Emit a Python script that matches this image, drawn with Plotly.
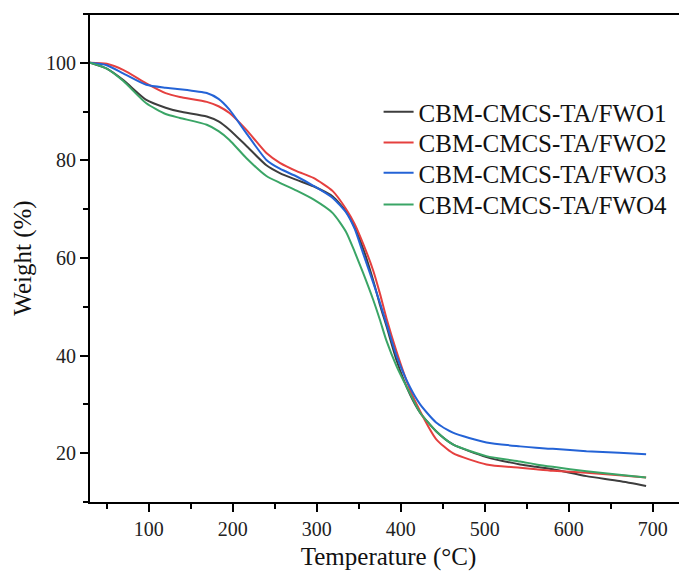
import plotly.graph_objects as go

# TGA curves
temp = [30, 50, 70, 97, 120, 137, 169, 183, 196, 216, 240, 256, 276, 296, 319, 335, 345,
        355, 367, 375, 383, 395, 411, 423, 442, 462, 502, 542, 561, 581, 621, 660, 692]

fwo1 = [100, 98.8, 96.4, 92.4, 90.8, 90.0, 89.0, 88.0, 86.3, 83.0, 79.0, 77.4, 76.0, 74.7, 72.6, 69.5, 66.3,
        62.0, 55.5, 50.5, 46.0, 39.0, 32.0, 28.3, 24.5, 21.8, 19.2, 17.7, 17.2, 16.7, 15.3, 14.3, 13.3]
fwo2 = [100, 99.8, 98.5, 95.8, 93.8, 93.0, 92.0, 91.1, 89.7, 86.3, 81.5, 79.5, 77.8, 76.4, 73.7, 70.0, 67.0,
        63.0, 57.5, 52.8, 47.6, 40.8, 33.0, 28.6, 22.9, 20.0, 17.7, 17.0, 16.7, 16.4, 16.0, 15.5, 15.0]
fwo3 = [100, 99.5, 97.8, 95.5, 94.9, 94.6, 93.8, 92.6, 90.4, 85.6, 80.1, 78.3, 76.7, 74.8, 72.3, 69.3, 66.0,
        61.0, 55.0, 50.9, 46.5, 39.9, 33.5, 30.0, 26.3, 24.2, 22.2, 21.4, 21.1, 20.9, 20.4, 20.1, 19.8]
fwo4 = [100, 98.8, 96.2, 91.7, 89.5, 88.7, 87.3, 86.0, 84.2, 80.5, 76.8, 75.4, 73.8, 72.0, 69.2, 65.3, 61.3,
        57.0, 51.5, 47.4, 43.0, 37.8, 32.2, 28.3, 24.5, 21.8, 19.4, 18.3, 17.7, 17.2, 16.3, 15.6, 15.0]

names = ['CBM-CMCS-TA/FWO1', 'CBM-CMCS-TA/FWO2', 'CBM-CMCS-TA/FWO3', 'CBM-CMCS-TA/FWO4']
colors = ['#3d3d3d', '#e5403f', '#2463d6', '#3aa566']

font = 'Liberation Serif'

fig = go.Figure()
legend_ids = ['legend', 'legend2', 'legend3', 'legend4']
for name, ys, col, lg in zip(names, [fwo1, fwo2, fwo3, fwo4], colors, legend_ids):
    fig.add_scatter(x=temp, y=ys, name=name, mode='lines', legend=lg,
                    line=dict(color=col, width=2, shape='spline', smoothing=0.6))

axis_common = dict(
    showline=True, linecolor='black', linewidth=2,
    ticks='outside', ticklen=8, tickwidth=1.8, tickcolor='black',
    showgrid=False, zeroline=False, automargin=False,
    tickfont=dict(family=font, size=20, color='#222'),
)

fig.update_xaxes(range=[30, 740.7], dtick=100, tick0=0, mirror=False,
                 title=dict(text='Temperature (°C)', font=dict(family=font, size=25, color='#111'),
                            standoff=8),
                 minor=dict(ticks='outside', ticklen=5, tickwidth=1.8, tickcolor='black', dtick=50),
                 **axis_common)
fig.update_yaxes(range=[10, 110], dtick=20, tick0=0,
                 title=dict(text='Weight (%)', font=dict(family=font, size=25, color='#111'),
                            standoff=7),
                 minor=dict(ticks='outside', ticklen=5, tickwidth=1.8, tickcolor='black', dtick=10),
                 **axis_common)

# top frame line only (the picture is cut on the right)
fig.add_shape(type='line', xref='paper', yref='paper', x0=-0.007, x1=1, y0=1, y1=1,
              line=dict(color='black', width=2))

# one legend per entry so the row spacing can follow the reference
legend_style = dict(x=0.4834, xanchor='left', yanchor='middle', bgcolor='rgba(0,0,0,0)',
                    font=dict(family=font, size=25, color='#111'), itemwidth=30)
legend_y = [0.799, 0.736, 0.674, 0.609]

# page has an 8px body margin, so the figure is shrunk to fit the window
fig.update_layout(
    width=679, height=575,
    margin=dict(l=82, r=0, t=6, b=81),
    font=dict(family=font, color='#111'),
    plot_bgcolor='white', paper_bgcolor='white',
    showlegend=True,
    **{lg: dict(y=y, **legend_style) for lg, y in zip(legend_ids, legend_y)}
)

fig.write_html("out.html")
